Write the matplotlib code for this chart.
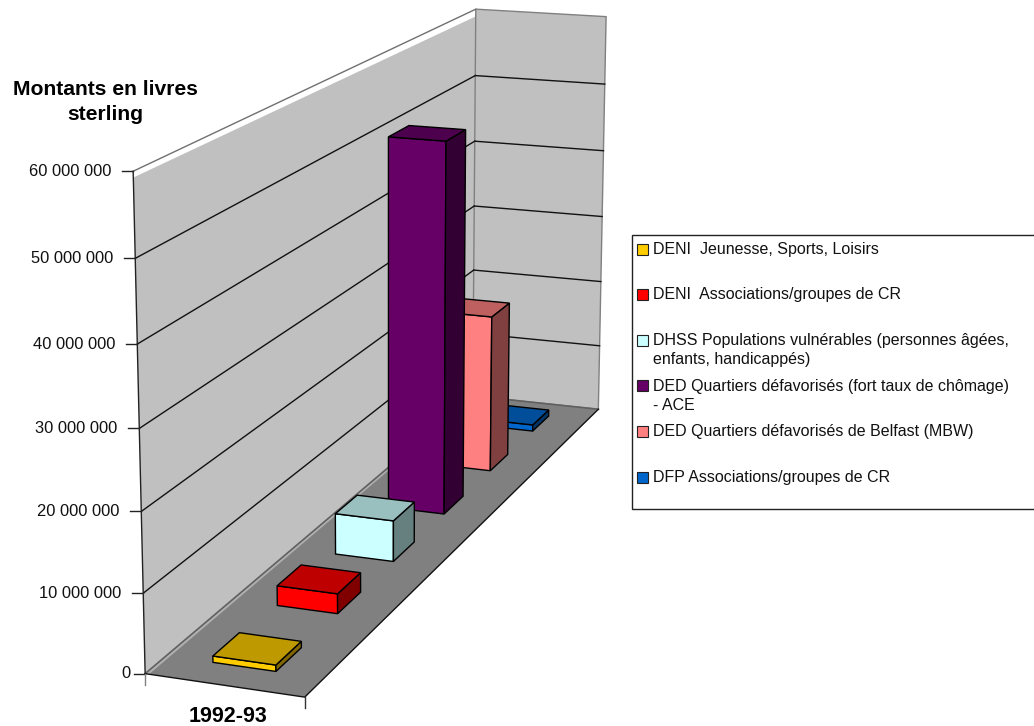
import numpy as np
import matplotlib
matplotlib.use('Agg')
import matplotlib.pyplot as plt
from matplotlib.patches import Polygon, Rectangle

plt.rcParams['font.family'] = ['Liberation Sans', 'DejaVu Sans']

category = '1992-93'
axis_title = 'Montants en livres\nsterling'
tick_values = [0, 10000000, 20000000, 30000000, 40000000, 50000000, 60000000]
tick_labels = ['0', '10 000 000', '20 000 000', '30 000 000', '40 000 000', '50 000 000', '60 000 000']
series_labels = ['DENI  Jeunesse, Sports, Loisirs',
                 'DENI  Associations/groupes de CR',
                 'DHSS Populations vulnérables (personnes âgées,\nenfants, handicappés)',
                 'DED Quartiers défavorisés (fort taux de chômage)\n- ACE',
                 'DED Quartiers défavorisés de Belfast (MBW)',
                 'DFP Associations/groupes de CR']
series_values = [800000, 2600000, 5550000, 51550000, 22600000, 950000]
series_colors = ['#FFCC00', '#FF0000', '#CCFFFF', '#660066', '#FF8080', '#0066CC']

ymax = 60000000

# fit the 3d view from the corners of the walls: (across, depth, height) -> pixel
corners = [((0, 0, 0), (146, 674)), ((1, 0, 0), (304, 697)), ((0, 1, 0), (472, 396)),
           ((1, 1, 0), (599, 409)), ((0, 0, 1), (133, 171)), ((0, 1, 1), (476, 9)),
           ((1, 1, 1), (606, 17))]
A = []
for (a, d, h), (px, py) in corners:
    A.append([a, d, h, 1, 0, 0, 0, 0, -px * a, -px * d, -px * h, -px])
    A.append([0, 0, 0, 0, a, d, h, 1, -py * a, -py * d, -py * h, -py])
cam = np.linalg.svd(np.array(A, dtype=float))[2][-1].reshape(3, 4)


def proj(a, d, v):
    p = cam @ np.array([a, d, v / ymax, 1.0])
    return p[0] / p[2], p[1] / p[2]


def shade(color, f):
    return tuple(np.array(matplotlib.colors.to_rgb(color)) * f)


fig = plt.figure(figsize=(10.34, 7.26), dpi=100)
ax = fig.add_axes([0, 0, 1, 1])
ax.set_xlim(0, 1034)
ax.set_ylim(726, 0)
ax.axis('off')

# walls and floor
ax.add_patch(Polygon([proj(0, 0, 0), proj(0, 1, 0), proj(0, 1, ymax * 0.982), proj(0, 0, ymax * 0.988)], fc='#C0C0C0', ec='none'))
ax.add_patch(Polygon([proj(0, 1, 0), proj(1, 1, 0), proj(1, 1, ymax), proj(0, 1, ymax)], fc='#C0C0C0', ec='#808080', lw=1))
ax.add_patch(Polygon([proj(0, 0, 0), proj(1, 0, 0), proj(1, 1, 0), proj(0, 1, 0)], fc='#808080', ec='none'))
# lighter edge of the wall along the floor
ax.add_patch(Polygon([proj(0, 0, 0), proj(0.025, 0, 0), proj(0.025, 1, 0), proj(0, 1, 0)], fc='#B0B0B0', ec='none'))
ax.plot(*zip(proj(0, 0, 0), proj(0, 1, 0)), color='#606060', lw=1.2)
ax.plot(*zip(proj(0, 1, 0), proj(1, 1, 0)), color='#606060', lw=1.2)

for v in tick_values[1:-1]:
    ax.plot(*zip(proj(0, 0, v), proj(0, 1, v)), color='#111111', lw=1)
    ax.plot(*zip(proj(0, 1, v), proj(1, 1, v)), color='#111111', lw=1)

ax.plot(*zip(proj(0, 0, 0), proj(0, 0, ymax)), color='#222222', lw=1)
ax.plot(*zip(proj(0, 0, ymax), proj(0, 1, ymax)), color='#707070', lw=1)
ax.plot(*zip(proj(0, 0, 0), proj(1, 0, 0), proj(1, 1, 0)), color='#111111', lw=1)

for v, lab in zip(tick_values, tick_labels):
    x, y = proj(0, 0, v)
    ax.plot([x - 11, x], [y, y], color='#222222', lw=1)
    ax.text(x - 22 if v else x - 15, y, lab, ha='right', va='center', fontsize=11.9, color='#111111')

# little ticks under the floor corners
for a, c in zip([0, 1], ['#808080', '#333333']):
    x, y = proj(a, 0, 0)
    ax.plot([x, x], [y, y + 11], color=c, lw=1)

ax.text(105, 102, axis_title, ha='center', va='center', fontsize=15.2, fontweight='bold', linespacing=1.4)
ax.text(228, 717, category, ha='center', va='center', fontsize=15.5, fontweight='bold')

# bars, back to front, above the grid lines
x0, x1 = 0.3, 0.7
z = 3
for i in range(len(series_values) - 1, -1, -1):
    v = series_values[i]
    d0 = (i + 0.3) / len(series_values)
    d1 = (i + 0.7) / len(series_values)
    c = series_colors[i]
    ax.add_patch(Polygon([proj(x0, d0, 0), proj(x1, d0, 0), proj(x1, d0, v), proj(x0, d0, v)], fc=c, ec='black', lw=1, zorder=z))
    ax.add_patch(Polygon([proj(x1, d0, 0), proj(x1, d1, 0), proj(x1, d1, v), proj(x1, d0, v)], fc=shade(c, 0.5), ec='black', lw=1, zorder=z))
    ax.add_patch(Polygon([proj(x0, d0, v), proj(x1, d0, v), proj(x1, d1, v), proj(x0, d1, v)], fc=shade(c, 0.75), ec='black', lw=1, zorder=z))
    z += 1

# legend
ax.add_patch(Rectangle((632, 235), 410, 274, fc='white', ec='#222222', lw=1))
legend_y = [249.5, 295, 350, 396, 431.5, 477.5]
swatch_y = [249, 294.5, 340, 385.5, 431, 477]
for lab, c, ty, sy in zip(series_labels, series_colors, legend_y, swatch_y):
    ax.add_patch(Rectangle((637, sy - 5.5), 11, 11, fc=c, ec='#222222', lw=0.8))
    ax.text(653, ty, lab, ha='left', va='center', fontsize=11.5, linespacing=1.4, color='#111111')

fig.savefig('out.png', dpi=100)
